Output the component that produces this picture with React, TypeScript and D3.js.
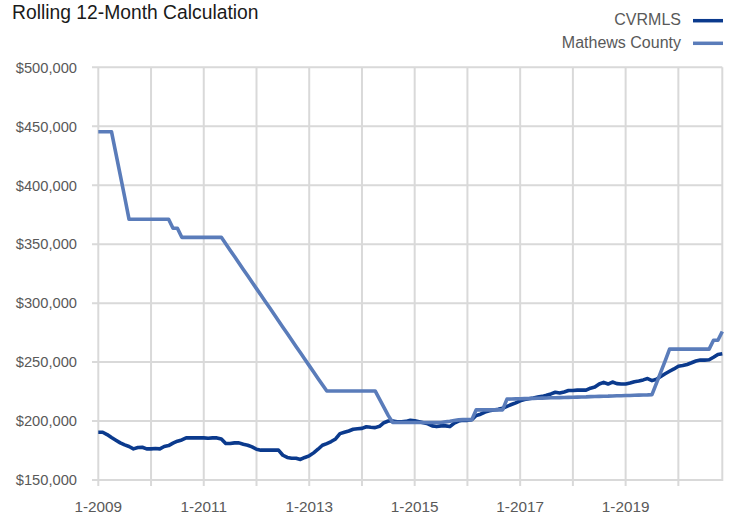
import React from 'react';
import * as d3 from 'd3';

// monthly rolling values, Jan 2009 .. Nov 2020
const cvrmls = [
  190.5, 190.5, 188.5, 186.0, 183.7, 181.5, 179.8, 178.4, 176.4, 177.5, 177.8, 176.4,
  176.4, 176.7, 176.4, 178.4, 179.2, 181.2, 182.9, 184.0, 185.7, 185.7, 185.7, 185.7,
  185.7, 185.4, 185.7, 185.7, 184.8, 180.9, 180.9, 181.5, 181.5, 180.3, 179.5, 178.1,
  176.1, 175.3, 175.3, 175.3, 175.3, 175.3, 171.0, 169.1, 168.5, 168.5, 167.4, 169.1,
  170.5, 173.0, 176.1, 179.5, 180.9, 182.6, 184.8, 189.3, 190.5, 191.6, 193.0, 193.5,
  193.8, 195.2, 194.7, 194.4, 195.5, 198.6, 200.0, 200.0, 199.4, 199.4, 199.7, 200.6,
  200.3, 199.4, 198.5, 197.7, 195.9, 195.3, 195.9, 195.9, 195.3, 198.3, 200.0, 200.6,
  200.6, 201.2, 204.7, 205.8, 207.6, 208.7, 209.3, 209.9, 210.8, 212.5, 214.0, 215.4,
  217.2, 218.3, 218.9, 219.5, 220.3, 220.9, 221.8, 223.0, 224.4, 223.8, 224.7, 225.9,
  225.9, 226.2, 226.2, 226.2, 227.9, 228.8, 231.4, 232.8, 231.4, 233.1, 231.7, 231.4,
  231.4, 232.3, 233.4, 234.0, 234.9, 236.0, 234.3, 235.5, 237.8, 240.1, 242.2, 244.2,
  246.5, 247.1, 248.0, 249.4, 250.9, 251.7, 251.7, 252.0, 254.1, 256.4, 257.0,
];

const mathews = [
  445.4, 445.4, 445.4, 445.4, 427.0, 408.5, 390.0, 371.1, 371.1, 371.1, 371.1, 371.1,
  371.1, 371.1, 371.1, 371.1, 371.1, 363.5, 363.5, 355.8, 355.8, 355.8, 355.8, 355.8,
  355.8, 355.8, 355.8, 355.8, 355.8, 350.4, 344.9, 339.5, 334.0, 328.6, 323.2, 317.7,
  312.3, 306.8, 301.4, 296.0, 290.5, 285.1, 279.6, 274.2, 268.8, 263.3, 257.9, 252.4,
  247.0, 241.6, 236.1, 230.7, 225.5, 225.5, 225.5, 225.5, 225.5, 225.5, 225.5, 225.5,
  225.5, 225.5, 225.5, 225.5, 218.6, 211.6, 204.6, 198.8, 198.8, 198.8, 198.8, 198.8,
  198.8, 198.8, 198.8, 198.8, 198.8, 198.8, 198.8, 199.3, 199.8, 200.4, 201.0, 201.2,
  201.2, 201.2, 209.5, 209.5, 209.5, 209.5, 209.5, 209.5, 209.5, 218.6, 218.7, 218.8,
  218.9, 219.0, 219.1, 219.2, 219.3, 219.4, 219.5, 219.7, 219.8, 219.9, 220.0, 220.1,
  220.2, 220.3, 220.4, 220.5, 220.7, 220.8, 220.9, 221.0, 221.1, 221.3, 221.4, 221.5,
  221.6, 221.7, 221.9, 222.0, 222.1, 222.2, 222.4, 232.0, 241.5, 251.0, 261.0, 261.0,
  261.0, 261.0, 261.0, 261.0, 261.0, 261.0, 261.0, 261.0, 268.5, 268.5, 276.0,
];

const yTicks = [150000, 200000, 250000, 300000, 350000, 400000, 450000, 500000];
const xLabelYears = [2009, 2011, 2013, 2015, 2017, 2019];
const gridYears = [2009, 2010, 2011, 2012, 2013, 2014, 2015, 2016, 2017, 2018, 2019, 2020];

const series = [
  { name: 'CVRMLS', values: cvrmls, color: '#0b3a8d' },
  { name: 'Mathews County', values: mathews, color: '#5a7cba' },
];

const FONT = '"Liberation Sans", Arial, sans-serif';

export default function App() {
  const width = 732;
  const height = 515;
  const left = 98.3;
  const right = 722.3;

  const x = d3.scaleLinear().domain([0, cvrmls.length - 1]).range([left, right]);
  const y = d3.scaleLinear().domain([150000, 500000]).range([480, 67.3]);

  const monthOf = (yr: number) => (yr - 2009) * 12;
  const fmt = d3.format('$,.0f');

  const line = d3
    .line<number>()
    .x((_, i) => x(i))
    .y((d) => y(d * 1000));

  return (
    <svg
      width={width}
      height={height}
      style={{ position: 'absolute', left: 0, top: 0, fontFamily: FONT }}
    >
      <rect width={width} height={height} fill="#fff" />

      <text x={12} y={19} fontSize={19.3} fill="#1a1a1a">
        Rolling 12-Month Calculation
      </text>

      {/* legend */}
      {series.map((s, i) => (
        <g key={s.name}>
          <text x={681} y={25 + i * 22.5} fontSize={16} fill="#595959" textAnchor="end">
            {s.name}
          </text>
          <line
            x1={693}
            x2={723}
            y1={20.7 + i * 22.6}
            y2={20.7 + i * 22.6}
            stroke={s.color}
            strokeWidth={3.5}
          />
        </g>
      ))}

      {/* grid */}
      <g stroke="#d9d9d9" strokeWidth={2}>
        {yTicks.map((t) => (
          <line key={t} x1={92} x2={right} y1={y(t)} y2={y(t)} />
        ))}
        {gridYears.map((yr) => (
          <line key={yr} x1={x(monthOf(yr))} x2={x(monthOf(yr))} y1={67.3} y2={486} />
        ))}
        <line x1={right} x2={right} y1={67.3} y2={481} />
      </g>

      {yTicks.map((t) => (
        <text
          key={t}
          x={77}
          y={y(t)}
          dy="0.36em"
          fontSize={14.7}
          fill="#595959"
          textAnchor="end"
        >
          {fmt(t)}
        </text>
      ))}

      {xLabelYears.map((yr) => (
        <text
          key={yr}
          x={x(monthOf(yr))}
          y={511.5}
          fontSize={15.3}
          fill="#595959"
          textAnchor="middle"
        >
          {`1-${yr}`}
        </text>
      ))}

      {series.map((s) => (
        <path
          key={s.name}
          d={line(s.values) || ''}
          fill="none"
          stroke={s.color}
          strokeWidth={3.6}
          strokeLinejoin="round"
        />
      ))}
    </svg>
  );
}
